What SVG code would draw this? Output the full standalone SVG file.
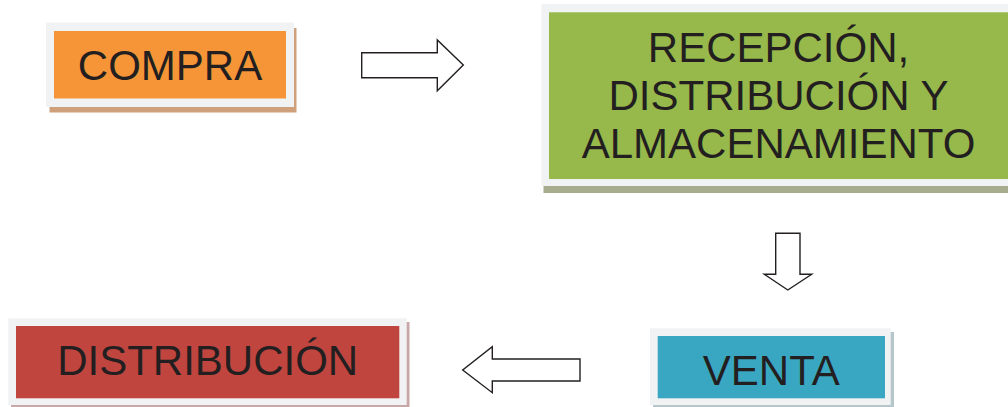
<svg xmlns="http://www.w3.org/2000/svg" width="1008" height="407" viewBox="0 0 1008 407">
<style>
.frame{fill:#f1f2f4}
.lbl{font-family:"Liberation Sans",Arial,sans-serif;font-size:42px;fill:#231f20;text-anchor:middle}
.arrow{fill:#ffffff;stroke:#231f20;stroke-width:1.4;stroke-linejoin:miter}
</style>
<rect width="1008" height="407" fill="#ffffff"/>
<g id="compra">
<rect x="49.5" y="28" width="247" height="84.5" fill="#cfa07c"/>
<rect class="frame" x="46" y="22.5" width="248" height="84.5"/>
<rect x="54" y="31" width="232" height="67.5" fill="#f69537"/>
<text class="lbl" x="170" y="79.5">COMPRA</text>
</g>
<g id="recepcion">
<rect x="543.5" y="10" width="465" height="183" fill="#a6ac8d"/>
<rect class="frame" x="541.5" y="4" width="467" height="182"/>
<rect x="549" y="12.3" width="459" height="166.7" fill="#97b84b"/>
<text class="lbl" x="778.5" y="61.7">RECEPCIÓN,</text>
<text class="lbl" x="778.5" y="110">DISTRIBUCIÓN Y</text>
<text class="lbl" x="778.5" y="158.3">ALMACENAMIENTO</text>
</g>
<g id="venta">
<rect x="653" y="332" width="241" height="75" fill="#b6c7cc"/>
<rect class="frame" x="650" y="328.3" width="240.7" height="76.7"/>
<rect x="657.7" y="336" width="227.3" height="62.3" fill="#3aa7c2"/>
<text class="lbl" x="771.3" y="385">VENTA</text>
</g>
<g id="distribucion">
<rect x="11" y="322" width="398.5" height="85" fill="#c9a7a7"/>
<rect class="frame" x="8.3" y="318.3" width="398.4" height="86.7"/>
<rect x="16" y="326" width="383.3" height="72.3" fill="#c0453f"/>
<text class="lbl" x="207.7" y="375">DISTRIBUCIÓN</text>
</g>
<g id="connectors">
<polygon class="arrow" points="361.7,52.7 437.3,52.7 437.3,40 463.3,65 437.3,90.7 437.3,77.7 361.7,77.7"/>
<polygon class="arrow" points="775.7,233.3 800,233.3 800,274.3 811.7,274.3 787.8,290 764.3,274.3 775.7,274.3"/>
<polygon class="arrow" points="580,359 492.3,359 492.3,346.7 462.7,370 492.3,392.7 492.3,381 580,381"/>
</g>
</svg>
